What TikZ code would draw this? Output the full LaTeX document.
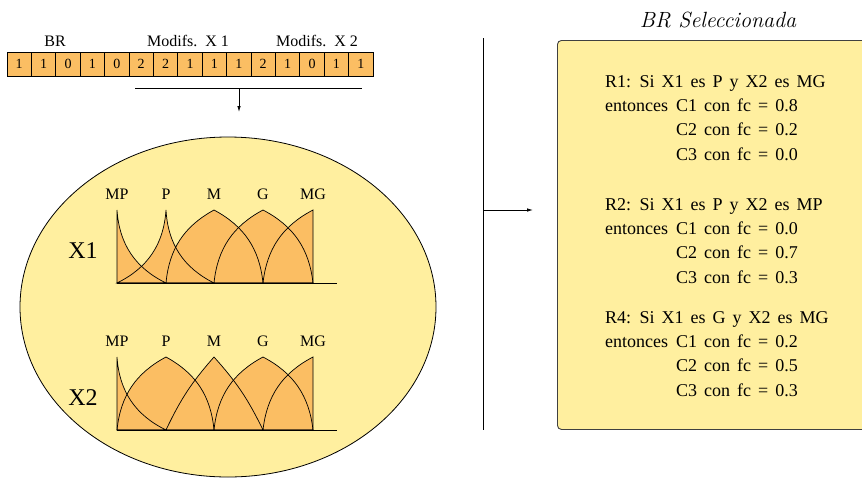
\documentclass[tikz,border=0pt]{standalone}
\usepackage{fontspec}
\newfontfamily\timesrm{Liberation Serif}
\usepackage{tikz}
\usetikzlibrary{positioning, arrows.meta, shapes.geometric}

\definecolor{cellorange}{HTML}{FBBE63}
\definecolor{paleyellow}{HTML}{FFEF9F}
\definecolor{boxedge}{HTML}{404040}

\begin{document}
\begin{tikzpicture}[x=1pt, y=-1pt,
    cell/.style={draw, line width=0.8pt, fill=cellorange, minimum width=24.4pt, minimum height=24pt, inner sep=0pt, font=\timesrm\fontsize{14}{14}\selectfont},
    toplabel/.style={anchor=base, inner sep=0pt, font=\timesrm\fontsize{16}{16}\selectfont},
    fuzzylabel/.style={anchor=base, inner sep=0pt, font=\timesrm\fontsize{16}{16}\selectfont},
    varlabel/.style={anchor=base, inner sep=0pt, font=\timesrm\fontsize{24}{24}\selectfont},
    rulebox/.style={anchor=base west, inner sep=0pt, font=\timesrm\fontsize{18}{24.4}\selectfont},
    mffill/.style={fill=cellorange},
    mfline/.style={draw, line width=0.7pt},
    divider/.style={line width=1pt},
    arrowtip/.style={-{Latex[length=6pt,width=3.5pt]}}
  ]
    \useasboundingbox (0,0) rectangle (862,477);

    % Chromosome: rule base bits and modifiers
    \foreach \d [count=\i from 0] in {1,1,0,1,0,2,2,1,1,1,2,1,0,1,1}
      \node[cell] (c\i) at ({19.2+24.4*\i}, 64) {\d};

    \node[toplabel] (brLabel) at (55,46) {BR};
    \node[toplabel] (modOne) at (188,46) {Modifs.\ \ X 1};
    \node[toplabel] (modTwo) at (317,46) {Modifs.\ \ X 2};

    \coordinate (barLeft) at (135,88);
    \coordinate (barRight) at (362,88);
    \coordinate (barMid) at (239,88);
    \coordinate (barEnd) at (239,112);
    \draw[line width=0.8pt] (barLeft) -- (barRight);
    \draw[line width=0.8pt, arrowtip] (barMid) -- (barEnd);

    % Yellow ellipse with the fuzzy partitions
    \node[draw, ellipse, fill=paleyellow, line width=0.8pt, minimum width=416pt, minimum height=340pt, inner sep=0pt]
    (pool) at (228,307) {};

    \node[varlabel] (xoneLabel) at (83,258) {X1};
    \node[varlabel] (xtwoLabel) at (83,405) {X2};

    \foreach \lab/\px in {MP/117,P/166,M/214,G/263,MG/313} {
      \node[fuzzylabel] (xone\lab) at (\px,199) {\lab};
      \node[fuzzylabel] (xtwo\lab) at (\px,346) {\lab};
    }

    % X1 partition
    \begin{scope}[shift={(0,283)}]
      \foreach \st in {mffill,mfline} {
        \path[\st] (117,0) -- (117,-73) to[bend right=30] (166,0) -- cycle;
        \path[\st] (117,0) to[bend right=30] (166,-73) to[bend right=30] (214,0) -- cycle;
        \path[\st] (166,0) to[bend left=28] (214,-73) to[bend left=28] (263,0) -- cycle;
        \path[\st] (214,0) to[bend left=28] (263,-73) to[bend left=28] (313,0) -- cycle;
        \path[\st] (263,0) to[bend left=28] (313,-73) -- (313,0) -- cycle;
      }
      \draw[line width=0.8pt] (117,0) -- (337,0);
    \end{scope}

    % X2 partition
    \begin{scope}[shift={(0,430)}]
      \foreach \st in {mffill,mfline} {
        \path[\st] (117,0) -- (117,-73) to[bend right=30] (166,0) -- cycle;
        \path[\st] (117,0) to[bend left=28] (166,-73) to[bend left=28] (214,0) -- cycle;
        \path[\st] (166,0) to[bend left=8] (214,-73) to[bend left=8] (263,0) -- cycle;
        \path[\st] (214,0) to[bend left=28] (263,-73) to[bend left=28] (313,0) -- cycle;
        \path[\st] (263,0) to[bend left=28] (313,-73) -- (313,0) -- cycle;
      }
      \draw[line width=0.8pt] (117,0) -- (337,0);
    \end{scope}

    % Divider and arrow to the selected rules
    \coordinate (divTop) at (483,38);
    \coordinate (divBot) at (483,430);
    \coordinate (divMid) at (483,210);
    \coordinate (selArrow) at (533,210);
    \draw[divider] (divTop) -- (divBot);
    \draw[line width=0.8pt, arrowtip] (divMid) -- (selArrow);

    % Selected rule base
    \node[draw=boxedge, fill=paleyellow, rounded corners=4pt, line width=0.9pt, minimum width=320pt, minimum height=389pt, anchor=north west, inner sep=0pt]
    (selBox) at (557,40) {};
    \node[anchor=base, inner sep=0pt, font=\fontsize{22}{22}\selectfont\itshape] (selTitle) at (718,27) {BR Seleccionada};

    \node[rulebox] (ruleOne) at (605,87) {\spaceskip=7pt\relax
      \begin{tabular}[t]{@{}l@{\hspace{8pt}}l@{}}
        \multicolumn{2}{@{}l@{}}{R1: Si X1 es P y\ X2 es MG}\\
        entonces & C1 con fc = 0.8\\
                 & C2 con fc = 0.2\\
                 & C3 con fc = 0.0
      \end{tabular}};
    \node[rulebox] (ruleTwo) at (605,210) {\spaceskip=7pt\relax
      \begin{tabular}[t]{@{}l@{\hspace{8pt}}l@{}}
        \multicolumn{2}{@{}l@{}}{R2: Si X1 es P y\ X2 es MP}\\
        entonces & C1 con fc = 0.0\\
                 & C2 con fc = 0.7\\
                 & C3 con fc = 0.3
      \end{tabular}};
    \node[rulebox] (ruleFour) at (605,323) {\spaceskip=7pt\relax
      \begin{tabular}[t]{@{}l@{\hspace{8pt}}l@{}}
        \multicolumn{2}{@{}l@{}}{R4: Si X1 es G y\ X2 es MG}\\
        entonces & C1 con fc = 0.2\\
                 & C2 con fc = 0.5\\
                 & C3 con fc = 0.3
      \end{tabular}};

\end{tikzpicture}
\end{document}
